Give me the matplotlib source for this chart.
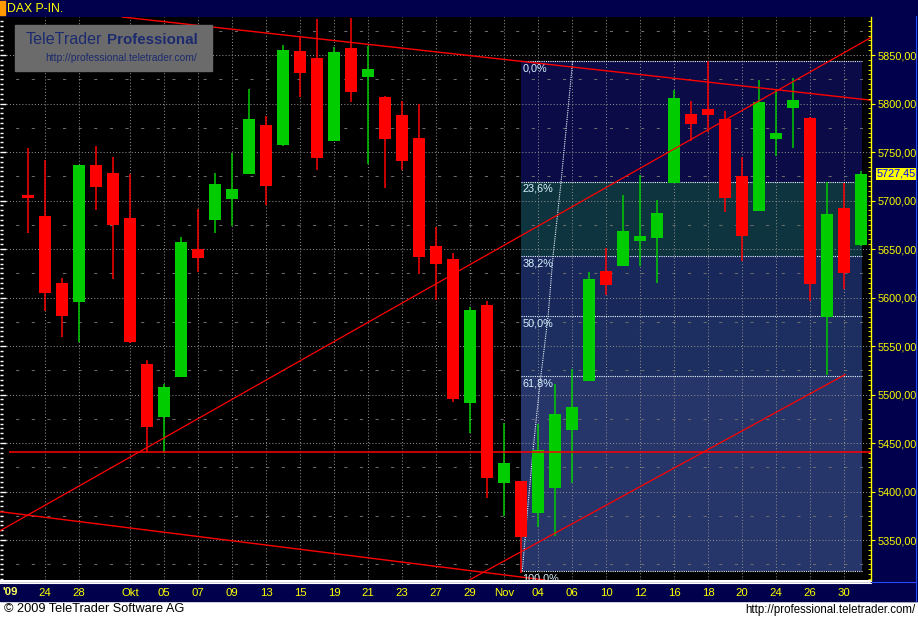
import matplotlib
matplotlib.use("Agg")
import matplotlib.pyplot as plt
from matplotlib.patches import Rectangle
from matplotlib.ticker import FuncFormatter, MultipleLocator
import numpy as np

plt.rcParams['font.family'] = ['Liberation Sans', 'DejaVu Sans']

# ---------------- data ----------------
dates = ["Sep23", "Sep24", "Sep25", "Sep28", "Sep29", "Sep30", "Oct01", "Oct02", "Oct05", "Oct06",
         "Oct07", "Oct08", "Oct09", "Oct12", "Oct13", "Oct14", "Oct15", "Oct16", "Oct19", "Oct20",
         "Oct21", "Oct22", "Oct23", "Oct26", "Oct27", "Oct28", "Oct29", "Oct30", "Nov02", "Nov03",
         "Nov04", "Nov05", "Nov06", "Nov09", "Nov10", "Nov11", "Nov12", "Nov13", "Nov16", "Nov17",
         "Nov18", "Nov19", "Nov20", "Nov23", "Nov24", "Nov25", "Nov26", "Nov27", "Nov30", "Dec01"]
opens = [5705.7, 5684.0, 5615.0, 5595.7, 5736.6, 5728.4, 5682.0, 5531.4, 5477.0, 5518.4,
         5650.0, 5680.0, 5701.5, 5727.3, 5777.8, 5757.2, 5854.0, 5847.0, 5761.3, 5857.0,
         5827.0, 5806.7, 5788.0, 5764.4, 5653.0, 5639.7, 5491.5, 5592.3, 5409.0, 5410.8,
         5377.5, 5404.0, 5463.7, 5514.2, 5627.3, 5632.5, 5658.2, 5661.3, 5718.0, 5789.0,
         5794.3, 5784.0, 5725.3, 5689.0, 5763.4, 5795.4, 5785.0, 5580.0, 5692.3, 5654.0]
highs = [5754.0, 5741.8, 5620.0, 5737.0, 5756.0, 5745.0, 5727.0, 5535.6, 5510.8, 5662.4,
         5691.0, 5728.0, 5749.0, 5815.0, 5787.0, 5860.0, 5869.6, 5887.0, 5858.0, 5888.0,
         5859.0, 5807.7, 5802.6, 5799.5, 5672.7, 5645.9, 5590.0, 5596.4, 5471.0, 5411.0,
         5469.6, 5510.8, 5526.3, 5626.3, 5651.0, 5705.7, 5726.3, 5700.5, 5814.0, 5802.6,
         5843.8, 5792.3, 5744.8, 5824.2, 5815.0, 5826.3, 5786.0, 5719.0, 5718.0, 5730.4]
lows = [5666.5, 5586.0, 5559.6, 5554.0, 5690.0, 5619.0, 5553.0, 5440.7, 5439.7, 5518.0,
        5626.6, 5666.5, 5673.7, 5727.0, 5695.0, 5756.0, 5806.7, 5731.4, 5761.0, 5801.5,
        5737.6, 5713.0, 5731.4, 5624.5, 5597.7, 5492.6, 5460.6, 5393.6, 5375.0, 5316.0,
        5363.7, 5354.4, 5409.0, 5514.0, 5602.6, 5632.0, 5632.5, 5615.0, 5718.0, 5761.3,
        5770.6, 5688.0, 5637.6, 5689.0, 5745.9, 5754.1, 5596.4, 5520.0, 5608.8, 5653.0]
closes = [5702.6, 5605.0, 5581.0, 5736.6, 5714.0, 5674.7, 5554.0, 5466.8, 5507.7, 5657.2,
          5641.0, 5717.0, 5711.9, 5784.0, 5715.3, 5855.0, 5831.4, 5743.8, 5853.0, 5812.0,
          5835.6, 5763.4, 5740.7, 5642.0, 5634.8, 5495.4, 5587.0, 5414.2, 5429.4, 5352.8,
          5442.8, 5480.0, 5487.0, 5619.0, 5612.9, 5668.6, 5663.4, 5687.0, 5805.7, 5778.9,
          5788.0, 5702.6, 5663.4, 5801.5, 5769.6, 5803.6, 5614.0, 5686.0, 5625.3, 5727.45]

tick_idx = [1, 3, 6, 8, 10, 12, 14, 16, 18, 20, 22, 24, 26, 28, 30, 32, 34, 36, 38, 40, 42, 44, 46, 48]
tick_labels = ["24", "28", "Okt", "05", "07", "09", "13", "15", "19", "21", "23", "27", "29", "Nov",
               "04", "06", "10", "12", "16", "18", "20", "24", "26", "30"]

# Fibonacci retracement
fib_high = 5843.5
fib_low = 5318.0
fib_ratios = [0.0, 0.236, 0.382, 0.5, 0.618, 1.0]
fib_labels = ["0,0%", "23,6%", "38,2%", "50,0%", "61,8%", "100,0%"]
fib_start, fib_end = 29.0, 49.06
fib_colors = ["#0b0b47", "#0e3440", "#18285a", "#1c2f60", "#27366a"]
# dotted fib trend curve (index, price)
fib_curve_x = [29.06, 29.1, 29.35, 29.71, 30.12, 30.59, 30.88, 31.35, 32.04]
fib_curve_y = [5318.0, 5322.5, 5374.0, 5442.8, 5511.9, 5580.0, 5642.0, 5718.0, 5843.8]

# trend lines (index, price)
upper_desc = [(7.18, 5886.0), (49.5, 5803.6)]
lower_desc = [(-1.53, 5379.0), (29.0, 5311.9)]
upper_asc = [(-1.53, 5360.7), (49.53, 5867.5)]
lower_asc = [(25.0, 5299.6), (48.06, 5520.5)]
support_level = 5440.4
last_price = 5727.45

# ---------------- figure ----------------
W, H = 918, 618
fig = plt.figure(figsize=(W / 100, H / 100), dpi=100, facecolor="white")

def fx(x):
    return x / W

def fy(y):
    return 1 - y / H

NAVY = "#00004c"
# title bar
fig.add_artist(Rectangle((0, fy(16)), 1, 16 / H, transform=fig.transFigure, color=NAVY, zorder=0))
fig.add_artist(Rectangle((0, fy(15)), fx(5), 14 / H, transform=fig.transFigure, color="#ff9a00", zorder=1))
fig.text(fx(7), fy(8.5), "DAX P-IN.", color="#ffff00", fontsize=8.8, va="center", ha="left")

# right axis strip
fig.add_artist(Rectangle((fx(871), fy(601)), fx(47), 585 / H, transform=fig.transFigure,
                         color=NAVY, zorder=0))
# bottom band
fig.add_artist(Rectangle((0, fy(601)), 1, 18 / H, transform=fig.transFigure, color=NAVY, zorder=0))
fig.add_artist(plt.Line2D([0, fx(871)], [fy(580.5), fy(580.5)], transform=fig.transFigure,
                          color="white", lw=0.8, zorder=2))
fig.add_artist(plt.Line2D([0, fx(871)], [fy(583), fy(583)], transform=fig.transFigure,
                          color="white", lw=0.8, zorder=2))
fig.add_artist(plt.Line2D([fx(915.5), fx(915.5)], [fy(16), fy(601)], transform=fig.transFigure,
                          color="#2a4cff", lw=0.8, zorder=2))
fig.add_artist(plt.Line2D([fx(872), fx(916)], [fy(581.5), fy(581.5)], transform=fig.transFigure,
                          color="#2a4cff", lw=0.8, zorder=2))

# main axes
ax = fig.add_axes([0, fy(580), fx(871), (580 - 17) / H])
ax.set_facecolor("black")
ax.set_xlim(-1.647, 49.59)
ax.set_ylim(5308.8, 5889.2)
for s in ax.spines.values():
    s.set_visible(False)

# grid
ax.set_axisbelow(True)
ax.set_xticks(tick_idx)
ax.set_xticklabels(tick_labels)
ax.yaxis.set_major_locator(MultipleLocator(50))
ax.yaxis.set_minor_locator(MultipleLocator(5))
ax.grid(True, which="major", color="#8a8a8a", linestyle=(0, (1, 2)), lw=0.75)
ax.tick_params(axis="x", colors="#ffff00", labelcolor="#ffff00", length=0, pad=6, labelsize=8.2)
ax.tick_params(axis="y", which="major", direction="in", length=4, color="white", width=1,
               labelleft=False)
ax.tick_params(axis="y", which="minor", direction="in", length=2, color="white", width=1)
for lv in np.arange(5325, 5900, 50):
    ax.axhline(lv, color="#6a6a6a", lw=0.75, linestyle=(0, (3, 12)), zorder=0.5)

# fib zones
for i in range(len(fib_ratios) - 1):
    top = fib_high - fib_ratios[i] * (fib_high - fib_low)
    bot = fib_high - fib_ratios[i + 1] * (fib_high - fib_low)
    ax.add_patch(Rectangle((fib_start, bot), fib_end - fib_start, top - bot,
                           facecolor=fib_colors[i], edgecolor="none", zorder=0.3))
for r, lab in zip(fib_ratios, fib_labels):
    lv = fib_high - r * (fib_high - fib_low)
    ax.hlines(lv, fib_start, fib_end, color="#e8f6ff", lw=0.8, linestyle=(0, (1, 1)), zorder=2)
    ax.annotate(lab, (fib_start, lv), xytext=(1, -1.5), textcoords="offset points",
                va="top", ha="left", color="#d8f2ff", fontsize=7.8, zorder=5,
                annotation_clip=True, clip_on=True)
ax.plot(fib_curve_x, fib_curve_y, color="#e8f6ff", lw=0.8, linestyle=(0, (1, 1)), zorder=2)

# candles
k = np.arange(len(dates))
o = np.array(opens)
c = np.array(closes)
colors = np.where(c >= o, "#00cc00", "#ff0000")
ax.vlines(k, lows, highs, colors=colors, lw=1.1, zorder=3)
ax.bar(k, np.maximum(np.abs(c - o), 2.0), bottom=np.minimum(o, c), width=0.7,
       color=colors, linewidth=0, zorder=3.5)

# trend lines
ax.axline(upper_desc[0], upper_desc[1], color="#ff0000", lw=1.0, zorder=4)
ax.axline(lower_desc[0], lower_desc[1], color="#ff0000", lw=1.0, zorder=4)
ax.axline(upper_asc[0], upper_asc[1], color="#ff0000", lw=0.9, zorder=4)
ax.plot([lower_asc[0][0], lower_asc[1][0]], [lower_asc[0][1], lower_asc[1][1]],
        color="#ff0000", lw=0.9, zorder=4)
ax.hlines(support_level, -1.12, 49.59, color="#ff0000", lw=1.1, zorder=4)

# right axis
ax2 = ax.twinx()
ax2.set_ylim(ax.get_ylim())
ax2.set_xlim(ax.get_xlim())
for name, s in ax2.spines.items():
    s.set_visible(name == "right")
ax2.spines["right"].set_color("#ffff00")
ax2.spines["right"].set_linewidth(1.0)
ax2.yaxis.set_major_locator(MultipleLocator(50))
ax2.yaxis.set_minor_locator(MultipleLocator(5))
ax2.yaxis.set_major_formatter(FuncFormatter(lambda v, _: f"{v:.2f}".replace(".", ",")))
ax2.tick_params(axis="y", which="major", direction="out", length=3, color="#ffff00",
                labelcolor="#ffff00", labelsize=7.8, pad=1.5)
ax2.tick_params(axis="y", which="minor", direction="in", length=2, color="#ffff00")
ax2.tick_params(axis="x", bottom=False, labelbottom=False, top=False, labeltop=False)
ax2.annotate(f"{last_price:.2f}".replace(".", ","), (1, last_price),
             xycoords=("axes fraction", "data"), xytext=(4.2, 0), textcoords="offset points",
             va="center", ha="left", color="#0000ff", fontsize=7.8, zorder=10,
             annotation_clip=False,
             bbox=dict(boxstyle="square,pad=0.12", facecolor="#ffff00", edgecolor="none"))

# '09 year label
fig.text(fx(2), fy(592), "'09", color="#ffff60", fontsize=8.2, fontweight="bold", va="center", ha="left")

# logo
fig.add_artist(Rectangle((fx(15), fy(71)), fx(197), 46 / H, transform=fig.transFigure,
                         color="#6b6b6b", zorder=6))
fig.text(fx(26), fy(40), "TeleTrader", color="#1c2a6e", fontsize=11.6, va="center", ha="left", zorder=7)
fig.text(fx(198), fy(40), "Professional", color="#1c2a6e", fontsize=10.9, fontweight="bold",
         va="center", ha="right", zorder=7)
fig.text(fx(197), fy(58), "http://professional.teletrader.com/", color="#1c2a6e", fontsize=7.4,
         va="center", ha="right", zorder=7)

# footer
fig.text(fx(4), fy(609.5), "\u00a9 2009 TeleTrader Software AG", color="black", fontsize=9.2,
         va="center", ha="left")
fig.text(fx(916), fy(609.5), "http://professional.teletrader.com/", color="black", fontsize=8.3,
         va="center", ha="right")

fig.savefig("out.png", dpi=100, facecolor="white")
